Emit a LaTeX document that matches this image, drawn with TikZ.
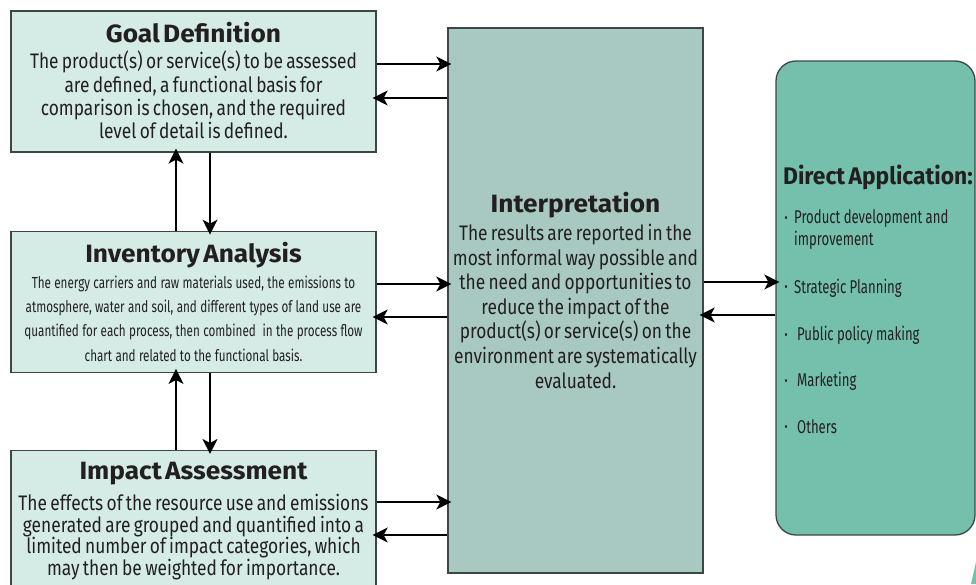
\documentclass[tikz,border=0pt]{standalone}
\usepackage{fontspec}
\setmainfont{Fira Sans}
\newfontfamily\condfont{Fira Sans}[FakeStretch=0.825]
\newfontfamily\tinycond{Fira Sans}[FakeStretch=0.73]
\newfontfamily\bulfont{Fira Sans}[FakeStretch=0.71]
\newfontfamily\headfont{Fira Sans}[FakeStretch=1.05]
\newfontfamily\apphead{Fira Sans}[FakeStretch=0.95]
\usetikzlibrary{arrows.meta,positioning}

\definecolor{stagefill}{HTML}{D4EBE6}
\definecolor{interpfill}{HTML}{A8C9C1}
\definecolor{appfill}{HTML}{74C0AD}
\definecolor{boxline}{HTML}{3C4745}
\definecolor{inkc}{HTML}{231F20}

\newcommand{\headtxt}{\headfont\bfseries\fontsize{25}{28}\selectfont}
\newcommand{\bul}{\raisebox{1.5pt}{\fontsize{13}{13}\selectfont\textbullet}}

\tikzset{
    stage/.style={draw=boxline, fill=stagefill, line width=1.3pt, minimum width=365, minimum height=141,
        text width=358, align=center, inner sep=0pt, text=inkc},
    interp box/.style={draw=boxline, fill=interpfill, line width=1.3pt, minimum width=255, minimum height=545,
        text width=252, align=center, inner sep=0pt, text=inkc},
    app box/.style={draw=boxline, fill=appfill, line width=1.3pt, rounded corners=20,
        minimum width=199, minimum height=474, inner sep=0pt},
    flow/.style={-{Stealth[length=15pt,width=15pt,inset=4pt]}, line width=1.6pt, black, shorten >=-4pt}
}

\begin{document}
\begin{tikzpicture}[x=1pt,y=-1pt,font=\condfont]
    \useasboundingbox (0,0) rectangle (976,584);

    % the three stages on the left
    \node[stage] (goal) at (193.5,81.5) {
        {\headtxt Goal Definition\par}\vspace{3pt}
        {\fontsize{21}{23.3}\selectfont The product(s) or service(s) to be assessed\\
        are defined, a functional basis for\\
        comparison is chosen, and the required\\
        level of detail is defined.\par}\vspace*{2pt}};
    \node[stage, below=78pt of goal] (inv) {
        {\headtxt Inventory Analysis\par}\vspace{1.5pt}
        {\tinycond\fontsize{16}{24.4}\selectfont The energy carriers and raw materials used, the emissions to\\
        atmosphere, water and soil, and different types of land use are\\
        quantified for each process, then combined\ \ in the process flow\\
        chart and related to the functional basis.\par}};
    \node[stage, below=77pt of inv] (impact) {
        {\headtxt Impact Assessment\par}\vspace{8pt}
        {\fontsize{21}{21.7}\selectfont The effects of the resource use and emissions\\
        generated are grouped and quantified into a\\
        limited number of impact categories, which\\
        may then be weighted for importance.\par}};

    % interpretation in the middle
    \node[interp box] (interp) at (575.5,300.5) {
        {\headtxt Interpretation\par}\vspace{3pt}
        {\fontsize{21}{24.6}\selectfont The results are reported in the\\
        most informal way possible and\\
        the need and opportunities to\\
        reduce the impact of the\\
        product(s) or service(s) on the\\
        environment are systematically\\
        evaluated.\par}\vspace*{20pt}};

    % direct applications on the right
    \node[app box] (app) at (875.5,298) {};
    \node[anchor=north west, inner sep=0pt, text width=192, align=left, text=inkc] (apptext) at (783,165) {
        {\apphead\bfseries\fontsize{24}{27}\selectfont Direct Application:\par}\vspace{16.7pt}
        \bulfont\fontsize{18.5}{22.3}\selectfont\noindent
        \begin{tabular}[t]{@{\hspace{1.5pt}}l@{\hspace{6.5pt}}l@{}}
            \bul & Product development and\\
                 & improvement\\[25pt]
            \bul & Strategic Planning\\[25pt]
            \bul & \hspace{3pt}Public policy making\\[24pt]
            \bul & \hspace{3pt}Marketing\\[24pt]
            \bul & \hspace{3pt}Others
        \end{tabular}\par};
    \fill[appfill] (976,562) -- (976,584) -- (971,584) -- cycle;

    % stages <-> interpretation
    \draw[flow] (goal.east |- 0,64) -- (interp.west |- 0,64);
    \draw[flow] (interp.west |- 0,98) -- (goal.east |- 0,98);
    \draw[flow] (inv.east |- 0,284) -- (interp.west |- 0,284);
    \draw[flow] (interp.west |- 0,317) -- (inv.east |- 0,317);
    \draw[flow] (impact.east |- 0,502) -- (interp.west |- 0,502);
    \draw[flow] (interp.west |- 0,535) -- (impact.east |- 0,535);

    % interpretation <-> application
    \draw[flow] (interp.east |- 0,282) -- (app.west |- 0,282);
    \draw[flow] (app.west |- 0,315) -- (interp.east |- 0,315);

    % between the stages
    \draw[flow] (inv.north -| 176,0) -- (goal.south -| 176,0);
    \draw[flow] (goal.south -| 210,0) -- (inv.north -| 210,0);
    \draw[flow] (impact.north -| 176,0) -- (inv.south -| 176,0);
    \draw[flow] (inv.south -| 210,0) -- (impact.north -| 210,0);
\end{tikzpicture}
\end{document}
